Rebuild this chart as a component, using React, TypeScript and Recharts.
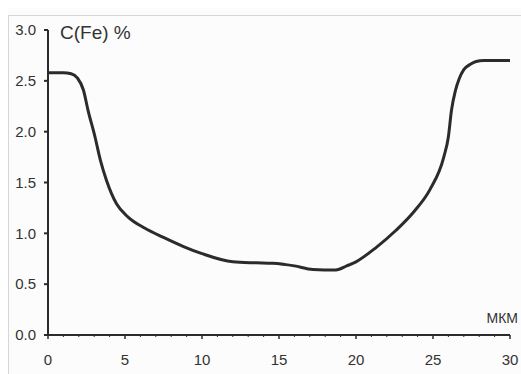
import React from 'react';
import { LineChart, Line, XAxis, YAxis } from 'recharts';

const depthUm = [0, 1, 1.5, 1.9, 2.3, 2.6, 3.05, 3.4, 3.8, 4.45, 5.2, 6.3, 7.5, 8.8, 10, 12, 13.5, 14.6, 16, 17.2, 18.7, 19.4, 20, 21.3, 22.6, 23.8, 24.8, 25.7, 26.0, 26.2, 26.45, 26.7, 27.0, 27.4, 27.8, 28.3, 30];
const feContent = [2.58, 2.58, 2.57, 2.53, 2.41, 2.21, 1.95, 1.72, 1.52, 1.29, 1.16, 1.05, 0.96, 0.87, 0.8, 0.72, 0.71, 0.705, 0.68, 0.645, 0.64, 0.68, 0.72, 0.86, 1.03, 1.22, 1.43, 1.75, 1.95, 2.21, 2.4, 2.52, 2.61, 2.66, 2.69, 2.7, 2.7];
const xTicks = Array.from({ length: 31 }, (_, i) => i);
const yTicks = [0, 0.5, 1, 1.5, 2, 2.5, 3];
const yLabel = 'C(Fe) %';
const xLabel = 'МКМ';

const data = depthUm.map((x, i) => ({ x, y: feContent[i] }));

const FONT = '"Liberation Sans", Arial, sans-serif';
const INK = '#2b2b2b';

const XTick = (props: any) => {
  const { x, y, payload } = props;
  const v = payload.value;
  const major = v % 5 === 0;
  const axisY = y - 20;
  return (
    <g>
      <line x1={x} x2={x} y1={axisY} y2={axisY + (major ? 4 : 2)} stroke={INK} strokeWidth={major ? 1.5 : 1} />
      {major && (
        <text x={x} y={axisY + 30} textAnchor="middle" fontSize={15} fill="#333" fontFamily={FONT}>
          {v}
        </text>
      )}
    </g>
  );
};

export default function App() {
  return (
    <div style={{ position: 'fixed', left: 8, top: 8, width: 513, height: 366, background: '#fcfcfc' }}>
      <div
        style={{
          position: 'absolute',
          left: 0,
          top: 7,
          width: 512,
          height: 358,
          borderTop: '1px solid #d6d6d6',
          borderLeft: '1px solid #d6d6d6',
        }}
      />
      <LineChart width={513} height={366} data={data} margin={{ top: 22, right: 11, bottom: 0, left: 0 }}>
        <XAxis
          dataKey="x"
          type="number"
          domain={[0, 30]}
          ticks={xTicks}
          interval={0}
          tick={<XTick />}
          tickLine={false}
          tickSize={4}
          tickMargin={16}
          height={39}
          stroke={INK}
          strokeWidth={2}
        />
        <YAxis
          type="number"
          domain={[0, 3]}
          ticks={yTicks}
          interval={0}
          tickFormatter={(v: number) => v.toFixed(1)}
          width={40}
          tickSize={4}
          tickMargin={8}
          stroke={INK}
          strokeWidth={2}
          tick={{ fontSize: 15, fill: '#333', fontFamily: FONT }}
        />
        <Line
          type="monotone"
          dataKey="y"
          stroke={INK}
          strokeWidth={3}
          dot={false}
          isAnimationActive={false}
        />
      </LineChart>
      <div
        style={{
          position: 'absolute',
          left: 52,
          top: 15,
          fontSize: 19,
          lineHeight: '19px',
          fontFamily: FONT,
          color: '#333',
          whiteSpace: 'nowrap',
        }}
      >
        {yLabel}
      </div>
      <div
        style={{
          position: 'absolute',
          right: 3,
          top: 303,
          fontSize: 14,
          lineHeight: '14px',
          fontFamily: FONT,
          color: '#333',
          whiteSpace: 'nowrap',
        }}
      >
        {xLabel}
      </div>
    </div>
  );
}
